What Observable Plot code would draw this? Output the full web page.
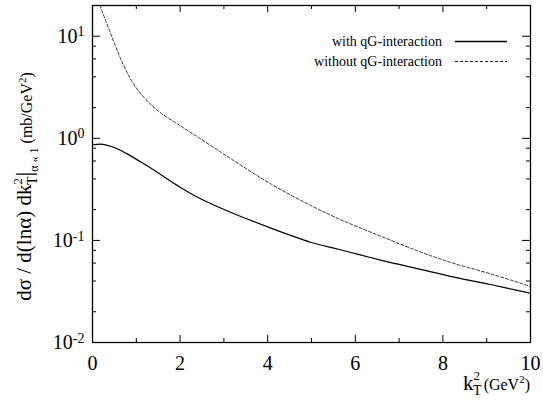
<!DOCTYPE html>
<html>
<head>
<meta charset="utf-8">
<script src="https://cdn.jsdelivr.net/npm/d3@7"></script>
<script src="https://cdn.jsdelivr.net/npm/@observablehq/plot@0.6"></script>
<style>
  html, body { margin: 0; padding: 0; background: #fff; }
  #chart svg { display: block; }
  #chart svg text, #chart svg tspan {
    font-family: "Liberation Serif", serif !important;
    font-variant: normal !important;
    font-variant-numeric: normal !important;
  }
</style>
</head>
<body>
<div id="chart"></div>
<script>
// k_T^2 (GeV^2) and dσ/d(lnα)dk_T^2 (mb/GeV^2)
const kWith = [0.03, 0.24, 0.47, 0.78, 1.08, 1.39, 1.69, 1.99, 2.30, 2.56, 3.15, 4.06, 4.98, 5.66, 6.58, 7.49, 8.17, 9.09, 10];
const sWith = [0.867, 0.873, 0.822, 0.708, 0.595, 0.493, 0.403, 0.333, 0.279, 0.245, 0.189, 0.1325, 0.096, 0.081, 0.064, 0.052, 0.0445, 0.037, 0.0303];
const kWithout = [0.17, 0.47, 0.70, 0.93, 1.20, 1.50, 2.00, 2.45, 3.15, 4.06, 4.98, 5.66, 6.58, 7.49, 8.17, 9.09, 10];
const sWithout = [20, 9.2, 5.3, 3.45, 2.45, 1.85, 1.33, 1.0, 0.635, 0.36, 0.22, 0.16, 0.11, 0.077, 0.061, 0.047, 0.0355];

const xMajor = [0, 2, 4, 6, 8, 10];
const xMinor = [1, 3, 5, 7, 9];
const yMajor = [0.01, 0.1, 1, 10];
const yMinor = [0.02, 0.04, 0.06, 0.08, 0.2, 0.4, 0.6, 0.8, 2, 4, 6, 8];
const yExp = {0.01: "-2", 0.1: "-1", 1: "0", 10: "1"};

const seriesNames = ["with qG-interaction", "without qG-interaction"];

const W = 543, H = 411;
const mL = 92, mR = 13, mT = 5, mB = 69;
const pw = W - mL - mR, ph = H - mT - mB;

const withData = kWith.map((k, i) => ({k, s: sWith[i]}));
const withoutData = kWithout.map((k, i) => ({k, s: sWithout[i]}));

const font = "'Liberation Serif', serif";

const chart = Plot.plot({
  width: W, height: H,
  marginLeft: mL, marginRight: mR, marginTop: mT, marginBottom: mB,
  style: {background: "#fff", color: "#000"},
  x: {domain: [0, 10]},
  y: {type: "log", domain: [0.01, 20]},
  marks: [
    Plot.line(withoutData, {x: "k", y: "s", stroke: "#222", strokeWidth: 0.9, strokeDasharray: "3,2", curve: "catmull-rom", clip: true}),
    Plot.line(withData, {x: "k", y: "s", stroke: "#000", strokeWidth: 1.2, curve: "catmull-rom", clip: true}),
    // inward ticks, left & right
    Plot.ruleY(yMajor, {insetRight: pw - 8, stroke: "#000", strokeWidth: 1}),
    Plot.ruleY(yMinor, {insetRight: pw - 4, stroke: "#000", strokeWidth: 1}),
    Plot.ruleY(yMajor, {insetLeft: pw - 8, stroke: "#000", strokeWidth: 1}),
    Plot.ruleY(yMinor, {insetLeft: pw - 4, stroke: "#000", strokeWidth: 1}),
    // inward ticks, bottom & top
    Plot.ruleX(xMajor, {insetTop: ph - 7, stroke: "#000", strokeWidth: 1}),
    Plot.ruleX(xMinor, {insetTop: ph - 4, stroke: "#000", strokeWidth: 1}),
    Plot.ruleX(xMajor, {insetBottom: ph - 7, stroke: "#000", strokeWidth: 1}),
    Plot.ruleX(xMinor, {insetBottom: ph - 4, stroke: "#000", strokeWidth: 1}),
    Plot.frame({stroke: "#000", strokeWidth: 1.3}),
    Plot.axisX({ticks: xMajor, tickSize: 0, tickPadding: 13, fontSize: 20, tickFormat: d => String(d), label: null}),
    Plot.axisY({ticks: yMajor, tickSize: 0, tickPadding: 8, fontSize: 20, tickFormat: d => "10|" + yExp[d], label: null})
  ]
});

document.getElementById("chart").appendChild(chart);

const svg = d3.select(chart);
svg.attr("font-family", font);

// superscript y tick labels
svg.selectAll("g[aria-label='y-axis tick label'] text").each(function() {
  const t = d3.select(this);
  const parts = t.text().split("|");
  t.text(parts[0]);
  t.append("tspan").attr("dy", "-0.45em").attr("font-size", 14).text(parts[1]);
});

// y axis label
const yl = svg.append("text")
  .attr("transform", `translate(31, ${mT + ph / 2 + 13}) rotate(-90)`)
  .attr("text-anchor", "middle")
  .attr("font-size", 21)
  .attr("fill", "#000");
yl.append("tspan").text("dσ / d(lnα) dk");
yl.append("tspan").attr("font-size", 13).attr("dy", -9).text("2");
yl.append("tspan").attr("font-size", 14).attr("dx", -7).attr("dy", 15).text("T");
yl.append("tspan").attr("font-size", 24).attr("dy", -5).text("|");
yl.append("tspan").attr("font-size", 12).attr("dy", 6).text("α « 1");
yl.append("tspan").attr("font-size", 16).attr("dy", -6).text(" (mb/GeV");
yl.append("tspan").attr("font-size", 11).attr("dy", -6).text("2");
yl.append("tspan").attr("font-size", 16).attr("dy", 6).text(")");

// x axis label
const xl = svg.append("text")
  .attr("x", W - mR)
  .attr("y", 390)
  .attr("text-anchor", "end")
  .attr("font-size", 21)
  .attr("fill", "#000");
xl.append("tspan").text("k");
xl.append("tspan").attr("font-size", 13).attr("dy", -10).text("2");
xl.append("tspan").attr("font-size", 14).attr("dx", -7).attr("dy", 15).text("T");
xl.append("tspan").attr("font-size", 16).attr("dx", 2).attr("dy", -5).text("(GeV");
xl.append("tspan").attr("font-size", 11).attr("dy", -7).text("2");
xl.append("tspan").attr("font-size", 16).attr("dy", 7).text(")");

// legend
const leg = svg.append("g").attr("font-size", 14).attr("fill", "#000");
const legY = [46, 66];
const dashes = [null, "3,2"];
seriesNames.forEach((name, i) => {
  leg.append("text").attr("x", 442).attr("y", legY[i]).attr("text-anchor", "end").text(name);
  leg.append("line")
    .attr("x1", 455).attr("x2", 507)
    .attr("y1", legY[i] - 4.5).attr("y2", legY[i] - 4.5)
    .attr("stroke", "#000").attr("stroke-width", i === 0 ? 1.3 : 0.9)
    .attr("stroke-dasharray", dashes[i]);
});

svg.selectAll("text").attr("font-family", font);
</script>
</body>
</html>
